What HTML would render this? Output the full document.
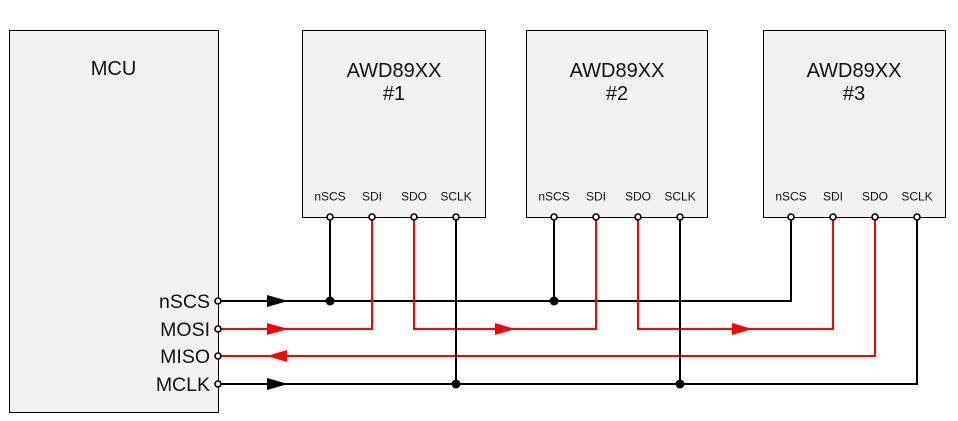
<!DOCTYPE html>
<html><head><meta charset="utf-8"><style>
html,body{margin:0;padding:0;background:#fff;width:958px;height:421px;overflow:hidden;}
svg{display:block;}
text{font-family:"Liberation Sans",sans-serif;fill:#111;}
</style></head><body>
<svg width="958" height="421" viewBox="0 0 958 421" xmlns="http://www.w3.org/2000/svg">
<!-- boxes -->
<rect x="9.5" y="30.5" width="209" height="382" fill="#f2f2f2" stroke="#000" stroke-width="1"/>
<rect x="302.5" y="30.5" width="183" height="187" fill="#f2f2f2" stroke="#000" stroke-width="1"/>
<rect x="526.5" y="30.5" width="181" height="187" fill="#f2f2f2" stroke="#000" stroke-width="1"/>
<rect x="763.5" y="30.5" width="182" height="187" fill="#f2f2f2" stroke="#000" stroke-width="1"/>

<!-- titles -->
<text x="113.5" y="75" font-size="20" text-anchor="middle">MCU</text>
<text x="394" y="77" font-size="20" text-anchor="middle">AWD89XX</text>
<text x="394" y="100" font-size="20" text-anchor="middle">#1</text>
<text x="617" y="77" font-size="20" text-anchor="middle">AWD89XX</text>
<text x="617" y="100" font-size="20" text-anchor="middle">#2</text>
<text x="854" y="77" font-size="20" text-anchor="middle">AWD89XX</text>
<text x="854" y="100" font-size="20" text-anchor="middle">#3</text>

<!-- pin labels -->
<g font-size="12" text-anchor="middle">
<text x="330" y="200.5">nSCS</text><text x="372" y="200.5">SDI</text><text x="414" y="200.5">SDO</text><text x="456" y="200.5">SCLK</text>
<text x="554" y="200.5">nSCS</text><text x="596" y="200.5">SDI</text><text x="638" y="200.5">SDO</text><text x="680" y="200.5">SCLK</text>
<text x="791" y="200.5">nSCS</text><text x="833" y="200.5">SDI</text><text x="875" y="200.5">SDO</text><text x="917" y="200.5">SCLK</text>
</g>
<g font-size="19.5" text-anchor="end">
<text x="210" y="308">nSCS</text>
<text x="210" y="336">MOSI</text>
<text x="210" y="363">MISO</text>
<text x="210" y="391">MCLK</text>
</g>

<!-- wires -->
<g fill="none" stroke-width="2" stroke-linejoin="miter">
<path d="M218 301 H791 V217" stroke="#000"/>
<path d="M330 217 V301" stroke="#000"/>
<path d="M554 217 V301" stroke="#000"/>
<path d="M218 329 H372 V217" stroke="#ff0000"/>
<path d="M414 217 V329 H596 V217" stroke="#ff0000"/>
<path d="M638 217 V329 H833 V217" stroke="#ff0000"/>
<path d="M875 217 V356 H218" stroke="#ff0000"/>
<path d="M218 384 H917 V217" stroke="#000"/>
<path d="M456 217 V384" stroke="#000"/>
<path d="M680 217 V384" stroke="#000"/>
</g>

<!-- arrows -->
<polygon points="267,295 288,301 267,307" fill="#000"/>
<polygon points="267,323 288,329 267,335" fill="#ff0000"/>
<polygon points="287,350 267,356 287,362" fill="#ff0000"/>
<polygon points="267,378 288,384 267,390" fill="#000"/>
<polygon points="495,323 515,329 495,335" fill="#ff0000"/>
<polygon points="732,323 752,329 732,335" fill="#ff0000"/>

<!-- junction dots -->
<g fill="#000">
<circle cx="330" cy="301" r="4.5"/>
<circle cx="554" cy="301" r="4.5"/>
<circle cx="456" cy="384" r="4.5"/>
<circle cx="680" cy="384" r="4.5"/>
</g>

<!-- pin circles -->
<g fill="#fff" stroke="#000" stroke-width="1.6">
<circle cx="330" cy="217" r="3"/><circle cx="372" cy="217" r="3"/><circle cx="414" cy="217" r="3"/><circle cx="456" cy="217" r="3"/>
<circle cx="554" cy="217" r="3"/><circle cx="596" cy="217" r="3"/><circle cx="638" cy="217" r="3"/><circle cx="680" cy="217" r="3"/>
<circle cx="791" cy="217" r="3"/><circle cx="833" cy="217" r="3"/><circle cx="875" cy="217" r="3"/><circle cx="917" cy="217" r="3"/>
<circle cx="218" cy="301" r="3"/><circle cx="218" cy="329" r="3"/><circle cx="218" cy="356" r="3"/><circle cx="218" cy="384" r="3"/>
</g>
</svg>
</body></html>
